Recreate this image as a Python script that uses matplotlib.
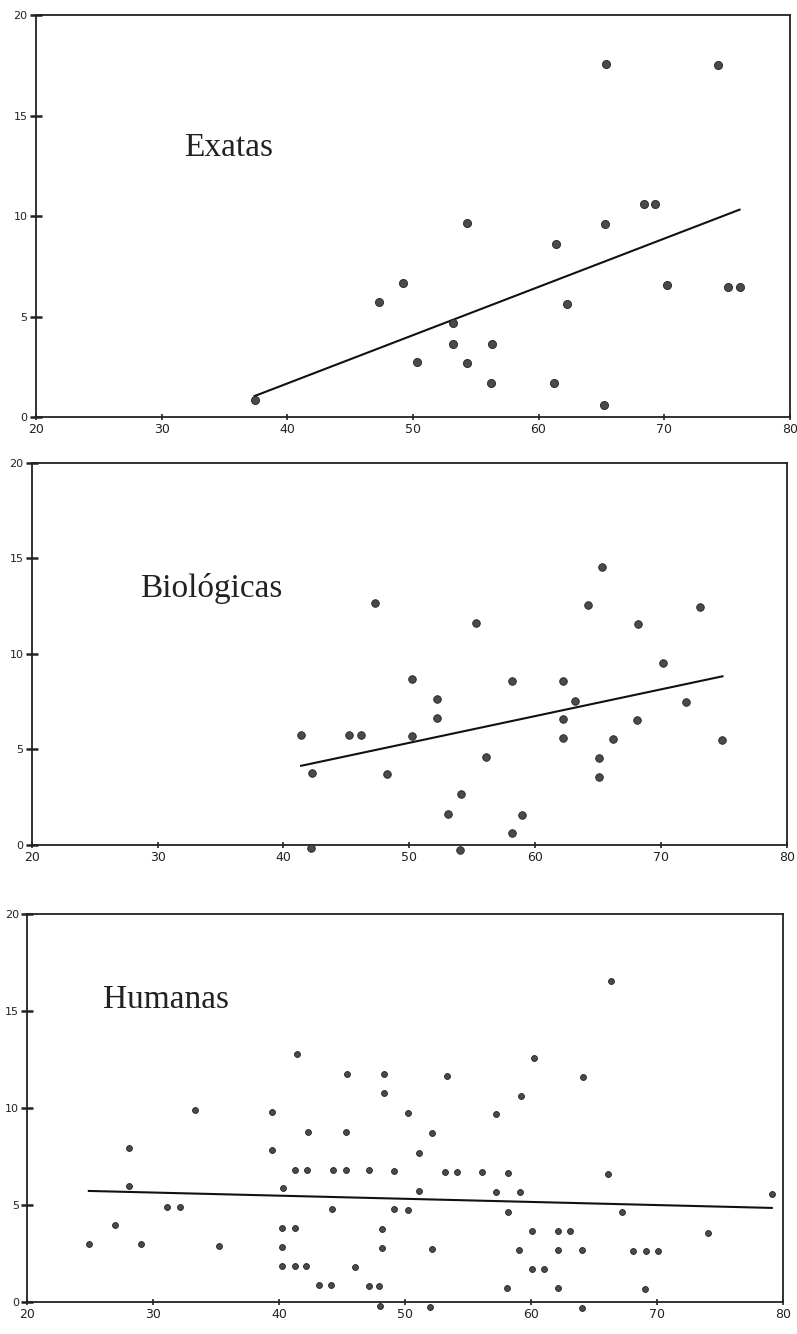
import matplotlib

matplotlib.use("Agg")
import matplotlib.pyplot as plt
import numpy as np

plt.rcParams.update(
    {
        "font.family": "DejaVu Sans",
        "font.size": 8,
        "axes.linewidth": 1.3,
        "axes.edgecolor": "#222222",
    }
)

# Exatas
exatas_x = [37.4, 47.3, 49.2, 50.3, 53.2, 53.2, 54.3, 54.3, 56.3, 56.2, 61.4,
            61.2, 62.3, 65.2, 65.3, 65.4, 68.4, 69.3, 70.2, 74.3, 75.1, 76.0]
exatas_y = [0.84, 5.74, 6.68, 2.72, 4.70, 3.66, 9.65, 2.67, 3.66, 1.68, 8.61,
            1.68, 5.64, 0.59, 9.60, 17.57, 10.59, 10.59, 6.58, 17.52, 6.49, 6.49]

# Biologicas
bio_x = [41.4, 42.3, 45.2, 46.2, 47.3, 48.2, 42.2, 50.2, 55.3, 52.2, 52.2, 50.2,
         56.1, 54.1, 53.1, 54.0, 58.2, 59.0, 58.2, 65.3, 64.2, 73.1, 68.2, 70.2,
         62.2, 63.2, 72.0, 62.2, 68.1, 62.2, 66.2, 74.9, 65.1, 65.1]
bio_y = [5.76, 3.77, 5.76, 5.76, 12.67, 3.72, -0.16, 8.69, 11.62, 7.64, 6.65, 5.71,
         4.61, 2.67, 1.62, -0.25, 8.59, 1.57, 0.63, 14.55, 12.57, 12.46, 11.57, 9.53,
         8.59, 7.54, 7.49, 6.60, 6.54, 5.60, 5.55, 5.50, 4.55, 3.56]

# Humanas
hum_x = [24.9, 27.0, 28.1, 28.1, 29.0, 31.1, 32.1, 33.3, 35.2, 39.4, 39.4, 41.4,
         42.3, 41.3, 42.2, 40.3, 40.2, 41.3, 40.2, 40.2, 41.3, 42.1, 43.2, 44.1,
         44.3, 45.3, 45.4, 45.3, 44.2, 46.0, 47.1, 47.1, 47.9, 48.3, 48.3, 48.2,
         48.2, 48.0, 49.1, 49.1,
         66.3, 60.2, 53.3, 64.1, 59.2, 50.2, 57.2, 52.1, 51.1, 53.2, 54.1, 56.1,
         58.2, 66.1, 51.1, 57.2, 59.1, 79.1, 50.2, 58.2, 67.2, 60.1, 62.1, 63.1,
         74.0, 52.1, 59.0, 62.1, 64.0, 68.1, 69.1, 70.1, 60.1, 61.0, 58.1, 62.1,
         69.0, 52.0, 64.0]
hum_y = [2.99, 3.97, 7.94, 5.98, 2.99, 4.90, 4.90, 9.90, 2.89, 9.79, 7.84, 12.78,
         8.76, 6.80, 6.80, 5.88, 3.81, 3.81, 2.84, 1.86, 1.86, 1.86, 0.88, 0.88,
         6.80, 6.80, 11.75, 8.76, 4.79, 1.80, 6.80, 0.82, 0.82, 11.75, 10.77, 3.76,
         2.78, -0.2, 6.75, 4.79,
         16.55, 12.58, 11.65, 11.60, 10.62, 9.74, 9.69, 8.71, 7.68, 6.70, 6.70, 6.70,
         6.65, 6.60, 5.72, 5.67, 5.67, 5.57, 4.74, 4.64, 4.64, 3.66, 3.66, 3.66,
         3.56, 2.73, 2.68, 2.68, 2.68, 2.63, 2.63, 2.63, 1.70, 1.70, 0.72, 0.72,
         0.67, -0.26, -0.31]

titles = ["Exatas", "Biológicas", "Humanas"]
title_pos = [(31.8, 13.4), (28.6, 13.4), (26.0, 15.6)]
x_ticks = [20, 30, 40, 50, 60, 70, 80]
y_ticks = [0, 5, 10, 15, 20]

fig = plt.figure(figsize=(7.97, 13.34), dpi=100)
rects = [
    [0.045, 0.6874, 0.946, 0.301],
    [0.040, 0.3666, 0.947, 0.2864],
    [0.034, 0.0240, 0.9486, 0.2909],
]
panels = [(exatas_x, exatas_y, 34), (bio_x, bio_y, 30), (hum_x, hum_y, 18)]

for rect, (xs, ys, size), title, tpos in zip(rects, panels, titles, title_pos):
    ax = fig.add_axes(rect)
    xs = np.array(xs)
    ys = np.array(ys)
    ax.scatter(xs, ys, s=size, color="#4a4a4a", edgecolors="#222222",
               linewidths=0.6, zorder=3, clip_on=False)
    # least-squares line over the range of the data
    slope, intercept = np.polyfit(xs, ys, 1)
    lx = np.array([xs.min(), xs.max()])
    ax.plot(lx, slope * lx + intercept, color="#111111", lw=1.5, zorder=2)
    ax.text(tpos[0], tpos[1], title, family="Liberation Serif", fontsize=24,
            va="center", ha="left", color="#222222")
    ax.set_xlim(20, 80)
    ax.set_ylim(0, 20)
    ax.set_xticks(x_ticks)
    ax.set_yticks(y_ticks)
    ax.tick_params(axis="y", direction="inout", length=8, width=1.8, pad=2,
                   labelsize=8, colors="#222222")
    ax.tick_params(axis="x", direction="inout", length=4, width=1.2, pad=2,
                   labelsize=9, colors="#222222")

fig.savefig("out.png", dpi=100)
